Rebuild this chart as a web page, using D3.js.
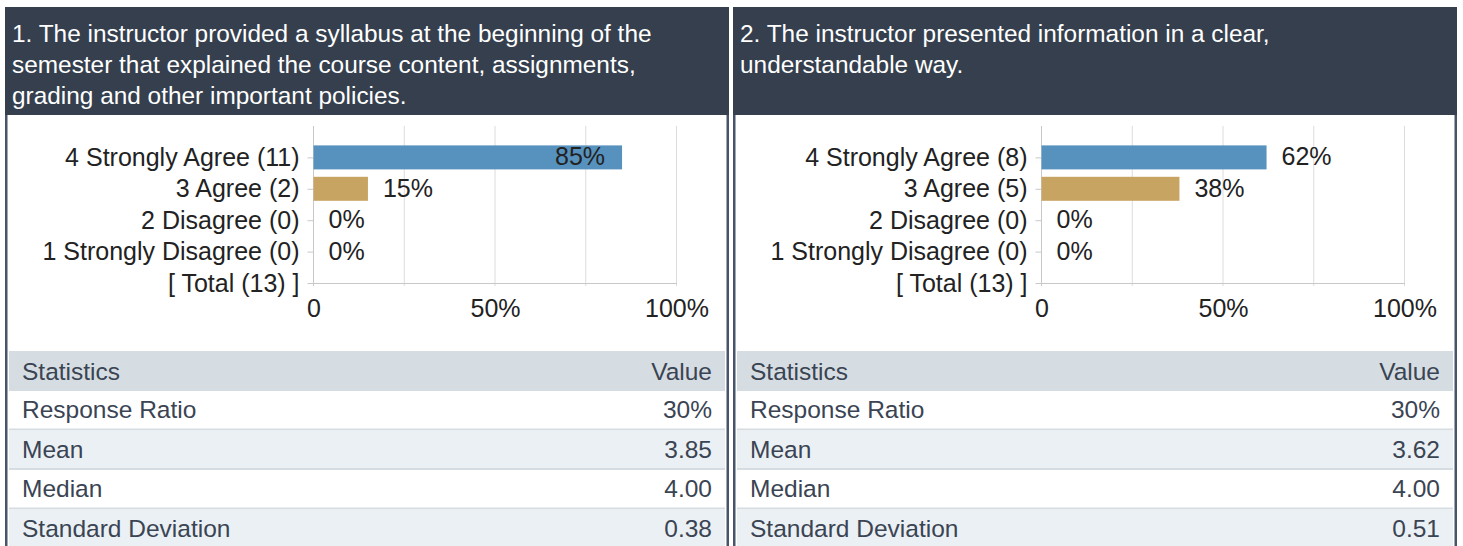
<!DOCTYPE html>
<html>
<head>
<meta charset="utf-8">
<script src="https://cdn.jsdelivr.net/npm/d3@7"></script>
<style>
  html, body { margin: 0; padding: 0; background: #fff; }
  svg { display: block; font-family: "Liberation Sans", Arial, sans-serif; }
</style>
</head>
<body>
<svg id="chart" width="1463" height="546"></svg>
<script>
// question titles, already broken into lines as in the report
const titleQ1 = ["1. The instructor provided a syllabus at the beginning of the",
                 "semester that explained the course content, assignments,",
                 "grading and other important policies."];
const titleQ2 = ["2. The instructor presented information in a clear,",
                 "understandable way."];

const categories = ["4 Strongly Agree", "3 Agree", "2 Disagree", "1 Strongly Disagree"];
const countsQ1 = [11, 2, 0, 0];
const countsQ2 = [8, 5, 0, 0];
const pctQ1 = [85, 15, 0, 0];
const pctQ2 = [62, 38, 0, 0];
const totalQ1 = 13;
const totalQ2 = 13;

const xTicks = [0, 50, 100];
const gridTicks = [0, 25, 50, 75, 100];

const statLabels = ["Response Ratio", "Mean", "Median", "Standard Deviation"];
const statsQ1 = ["30%", "3.85", "4.00", "0.38"];
const statsQ2 = ["30%", "3.62", "4.00", "0.51"];

const barColors = ["#5792bf", "#c8a462", "#5792bf", "#c8a462"];

const svg = d3.select("#chart");
const W = 1463, H = 546;
svg.append("rect").attr("width", W).attr("height", H).attr("fill", "#fff");

const panels = [
  { x: 5, title: titleQ1, counts: countsQ1, pct: pctQ1, total: totalQ1, stats: statsQ1 },
  { x: 733, title: titleQ2, counts: countsQ2, pct: pctQ2, total: totalQ2, stats: statsQ2 }
];

const panelW = 724;
const FS_HEAD = 24.4, FS_CHART = 25, FS_TABLE = 24.5;

panels.forEach(p => {
  const g = svg.append("g").attr("transform", `translate(${p.x},0)`);

  // header
  g.append("rect").attr("x", 0).attr("y", 7).attr("width", panelW).attr("height", 108)
    .attr("fill", "#353f4e");
  g.append("text")
    .attr("fill", "#fff")
    .attr("font-size", FS_HEAD)
    .selectAll("tspan")
    .data(p.title)
    .join("tspan")
    .attr("x", 7)
    .attr("y", (d, i) => 42 + i * 31)
    .text(d => d);

  // side borders
  g.append("rect").attr("x", 0).attr("y", 115).attr("width", 2.5).attr("height", H - 115).attr("fill", "#47546a");
  g.append("rect").attr("x", panelW - 2.5).attr("y", 115).attr("width", 2.5).attr("height", H - 115).attr("fill", "#47546a");

  // bar chart
  const x0 = 308.5, plotW = 363, top = 126, bottom = 283;
  const labels = categories.map((c, i) => `${c} (${p.counts[i]})`).concat([`[ Total (${p.total}) ]`]);
  const step = (bottom - top) / labels.length;
  const x = d3.scaleLinear().domain([0, 100]).range([x0, x0 + plotW]);
  const y = d3.scalePoint().domain(labels).range([top + step, bottom]);

  // gridlines
  g.append("g").selectAll("line")
    .data(gridTicks)
    .join("line")
    .attr("x1", d => x(d)).attr("x2", d => x(d))
    .attr("y1", top).attr("y2", bottom + 3)
    .attr("stroke", d => d === 0 ? "#c8c8c8" : "#dcdcdc")
    .attr("stroke-width", 1);

  // x axis
  const xAxis = g.append("g")
    .attr("transform", `translate(0,${bottom})`)
    .call(d3.axisBottom(x).tickValues(xTicks).tickSize(0).tickPadding(0)
      .tickFormat(d => d === 0 ? "0" : d + "%"));
  xAxis.select(".domain").attr("stroke", "#c8c8c8");
  xAxis.selectAll("text")
    .attr("font-family", null)
    .attr("font-size", FS_CHART)
    .attr("fill", "#222")
    .attr("dy", null)
    .attr("y", 34);

  // y axis
  const yAxis = g.append("g")
    .attr("transform", `translate(${x0},0)`)
    .call(d3.axisLeft(y).tickSize(6).tickPadding(8));
  yAxis.select(".domain").remove();
  yAxis.selectAll(".tick line").attr("stroke", "#c8c8c8");
  yAxis.selectAll("text")
    .attr("font-family", null)
    .attr("font-size", FS_CHART)
    .attr("fill", "#222")
    .attr("dy", "0.32em");

  // bars
  const barH = 24;
  const rows = categories.map((c, i) => ({ label: labels[i], pct: p.pct[i], color: barColors[i] }));
  g.append("g").selectAll("rect")
    .data(rows.filter(d => d.pct > 0))
    .join("rect")
    .attr("x", x(0))
    .attr("y", d => y(d.label) - barH / 2)
    .attr("width", d => x(d.pct) - x(0))
    .attr("height", barH)
    .attr("fill", d => d.color);

  // value labels: outside the bar, or inside when it would not fit
  const vl = g.append("g").selectAll("text")
    .data(rows)
    .join("text")
    .attr("font-size", FS_CHART)
    .attr("fill", "#222")
    .attr("dy", "0.32em")
    .attr("y", d => y(d.label))
    .text(d => d.pct + "%");
  vl.each(function (d) {
    const w = this.getComputedTextLength();
    const end = x(d.pct);
    if (end + 15 + w > x0 + plotW) {
      d3.select(this).attr("x", end - 17).attr("text-anchor", "end");
    } else {
      d3.select(this).attr("x", end + 15).attr("text-anchor", "start");
    }
  });

  // statistics table
  const tx = 4, tw = 716, headTop = 351, headH = 40, rowH = 39.5;
  g.append("rect").attr("x", tx).attr("y", headTop).attr("width", tw).attr("height", headH)
    .attr("fill", "#d6dde2");
  g.append("text").attr("x", tx + 13).attr("y", headTop + headH / 2).attr("dy", "0.35em")
    .attr("font-size", FS_TABLE).attr("fill", "#3a4453").text("Statistics");
  g.append("text").attr("x", tx + tw - 13).attr("y", headTop + headH / 2).attr("dy", "0.35em")
    .attr("text-anchor", "end").attr("font-size", FS_TABLE).attr("fill", "#3a4453").text("Value");

  const tRows = g.append("g").selectAll("g")
    .data(statLabels.map((s, i) => ({ s, v: p.stats[i], i })))
    .join("g")
    .attr("transform", d => `translate(${tx},${headTop + headH + d.i * rowH})`);
  tRows.append("rect")
    .attr("width", tw).attr("height", rowH)
    .attr("fill", d => d.i % 2 ? "#ebf0f4" : "#fff");
  tRows.append("rect")
    .attr("y", rowH - 2).attr("width", tw).attr("height", 2)
    .attr("fill", "#d6dde2");
  tRows.append("text").attr("x", 13).attr("y", rowH / 2 - 1).attr("dy", "0.35em")
    .attr("font-size", FS_TABLE).attr("fill", "#3a4453").text(d => d.s);
  tRows.append("text").attr("x", tw - 13).attr("y", rowH / 2 - 1).attr("dy", "0.35em")
    .attr("text-anchor", "end").attr("font-size", FS_TABLE).attr("fill", "#3a4453").text(d => d.v);
});
</script>
</body>
</html>
